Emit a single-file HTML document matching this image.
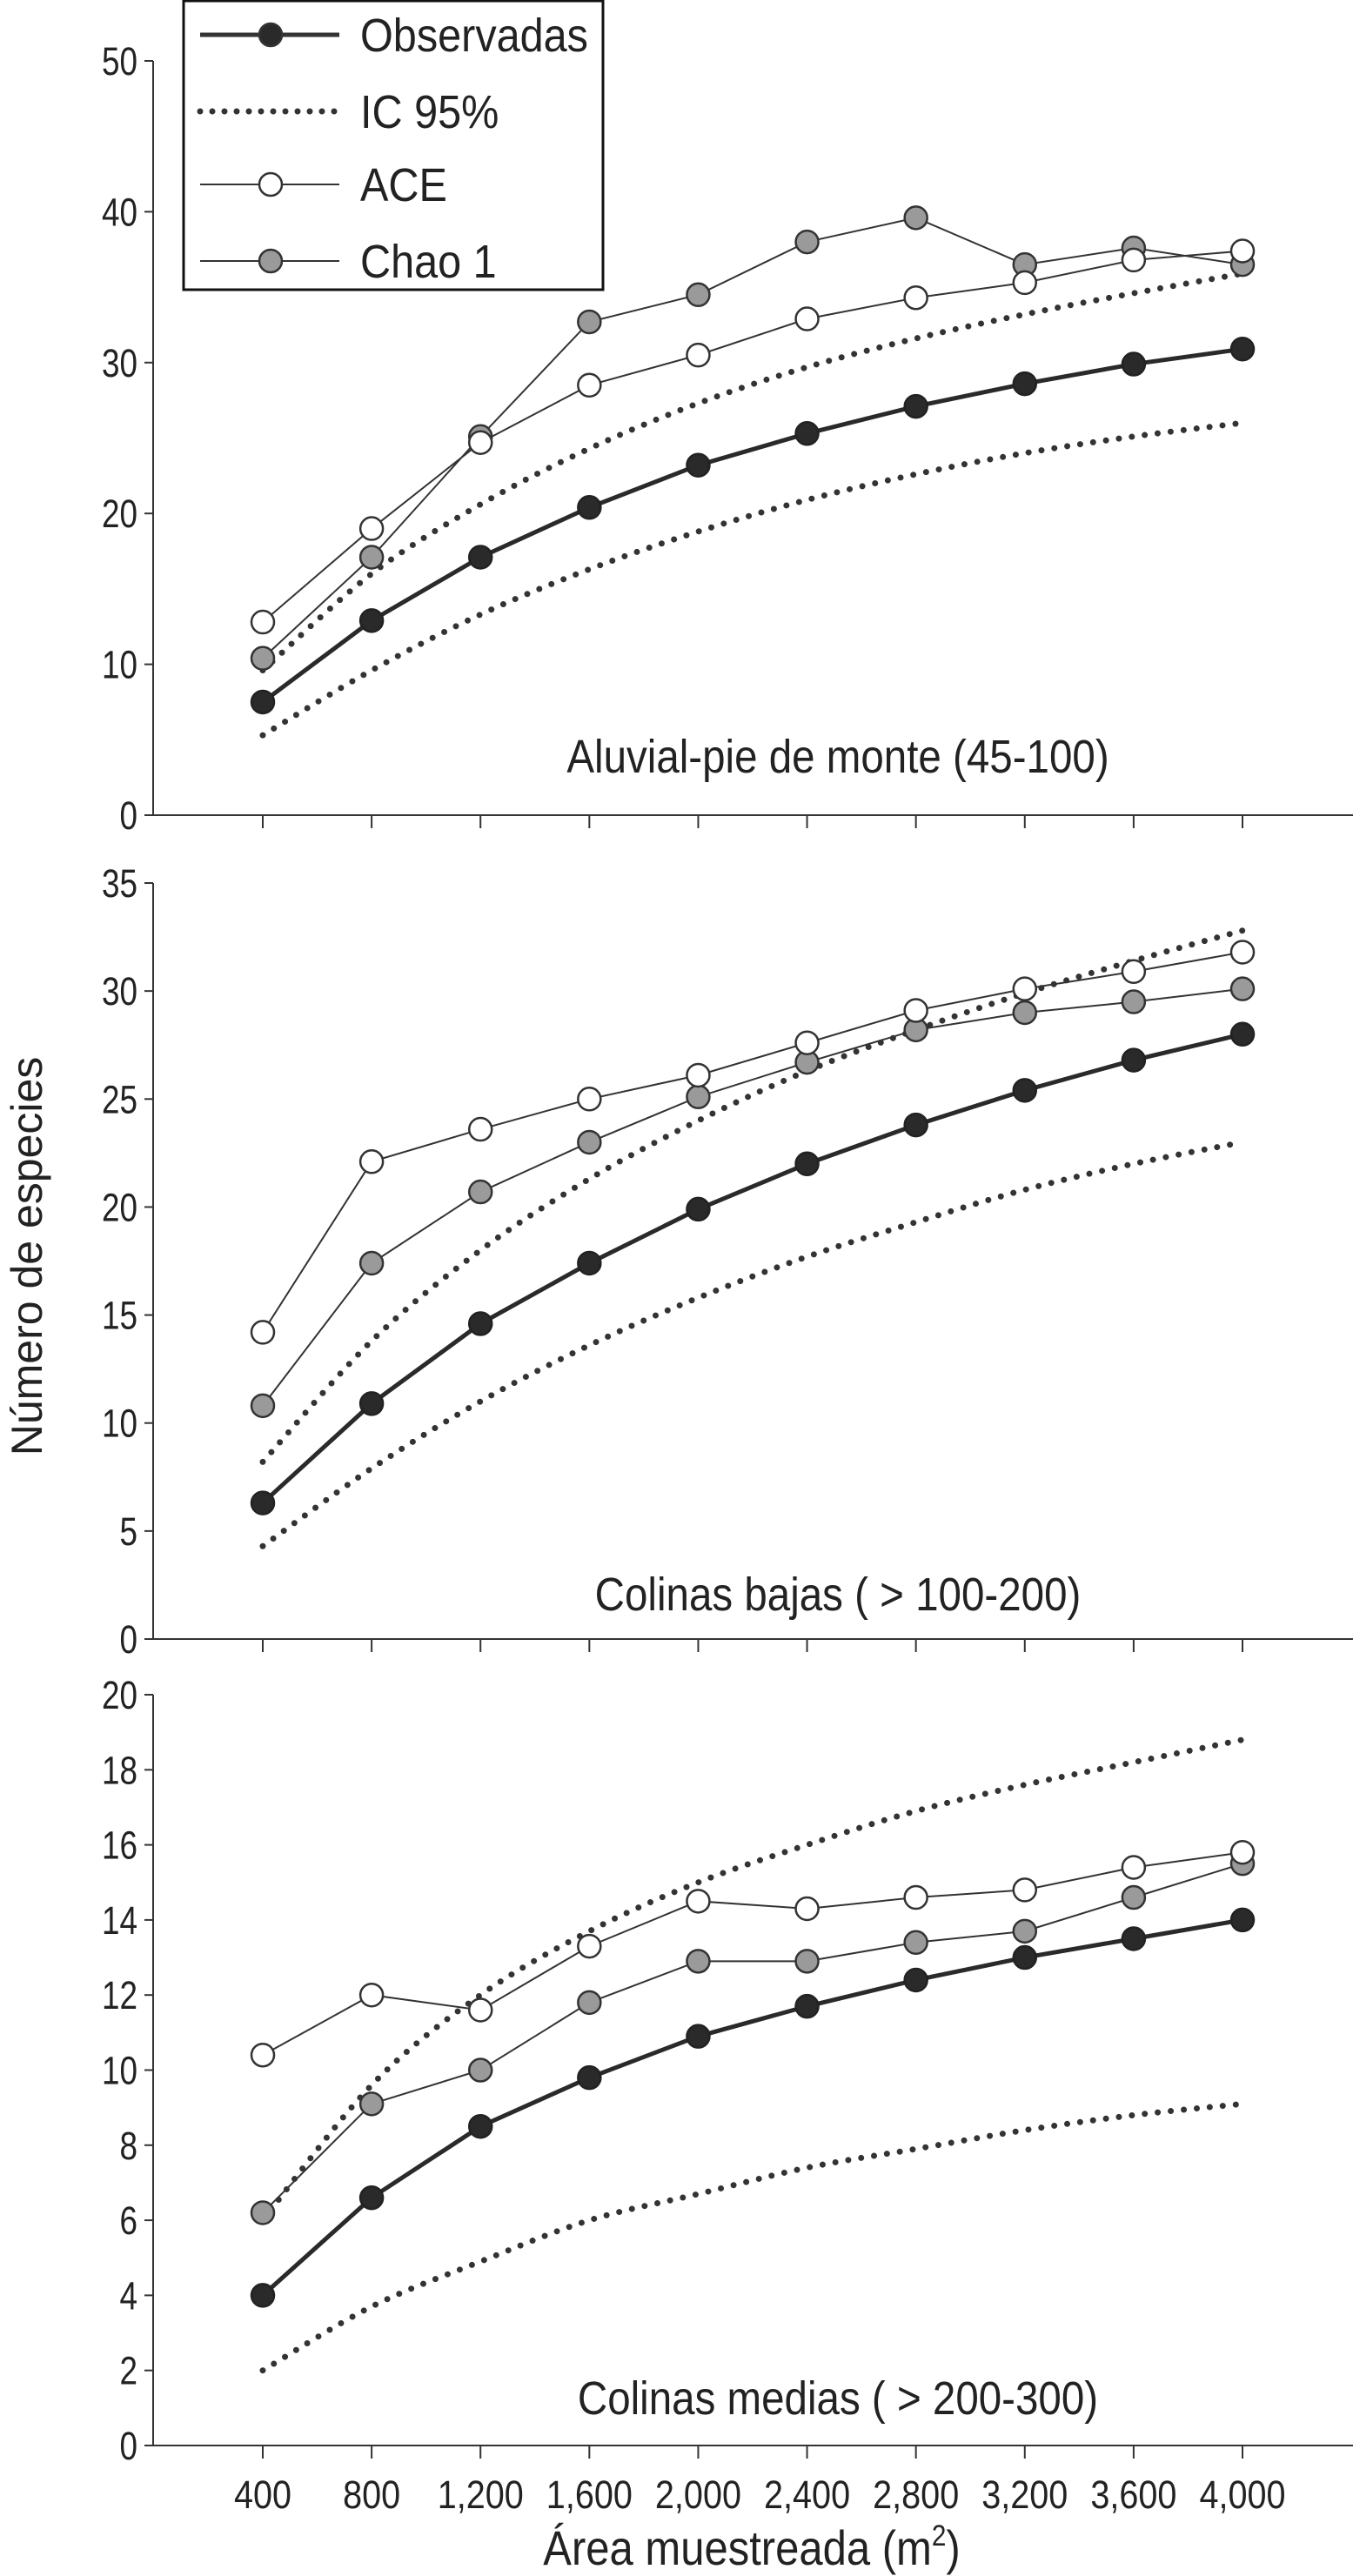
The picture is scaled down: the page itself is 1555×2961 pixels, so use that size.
<!DOCTYPE html>
<html><head><meta charset="utf-8"><style>
html,body{margin:0;padding:0;background:#fff;}
svg{display:block;}
text{font-family:"Liberation Sans",sans-serif;fill:#222;}
</style></head><body>
<svg id="chart" width="1555" height="2961" viewBox="0 0 1555 2961" xmlns="http://www.w3.org/2000/svg"></svg>
<script>
const categories = [400,800,1200,1600,2000,2400,2800,3200,3600,4000];
const xTickLabels = ["400","800","1,200","1,600","2,000","2,400","2,800","3,200","3,600","4,000"];

const p1Obs = [7.5,12.9,17.1,20.4,23.2,25.3,27.1,28.6,29.9,30.9];
const p1Up = [9.6,16,20.6,24.3,27.3,29.7,31.6,33.2,34.6,35.9];
const p1Low = [5.3,9.6,13.3,16.3,18.8,20.9,22.6,24,25.1,26];
const p1Ace = [12.8,19,24.7,28.5,30.5,32.9,34.3,35.3,36.8,37.4];
const p1Chao = [10.4,17.1,25.1,32.7,34.5,38,39.6,36.5,37.6,36.5];
const p1Ticks = [0,10,20,30,40,50];

const p2Obs = [6.3,10.9,14.6,17.4,19.9,22,23.8,25.4,26.8,28];
const p2Up = [8.2,13.8,18,21.3,24,26.3,28.2,29.9,31.4,32.8];
const p2Low = [4.3,7.9,11,13.6,15.8,17.7,19.3,20.8,22,23];
const p2Ace = [14.2,22.1,23.6,25,26.1,27.6,29.1,30.1,30.9,31.8];
const p2Chao = [10.8,17.4,20.7,23,25.1,26.7,28.2,29,29.5,30.1];
const p2Ticks = [0,5,10,15,20,25,30,35];

const p3Obs = [4,6.6,8.5,9.8,10.9,11.7,12.4,13,13.5,14];
const p3Up = [6,9.6,12,13.7,15,16,16.9,17.6,18.2,18.8];
const p3Low = [2,3.7,4.9,6,6.7,7.4,7.9,8.4,8.8,9.1];
const p3Ace = [10.4,12,11.6,13.3,14.5,14.3,14.6,14.8,15.4,15.8];
const p3Chao = [6.2,9.1,10,11.8,12.9,12.9,13.4,13.7,14.6,15.5];
const p3Ticks = [0,2,4,6,8,10,12,14,16,18,20];

const NS = "http://www.w3.org/2000/svg";
const svg = document.getElementById('chart');
function mk(tag, attrs, parent){
  const e = document.createElementNS(NS, tag);
  for (const k in attrs) e.setAttribute(k, attrs[k]);
  (parent||svg).appendChild(e);
  return e;
}
function ntext(x, y, size, anchor, parent, sx){
  return mk('text', {x:0, y:0, transform:`translate(${x},${y}) scale(${sx||0.8},1)`, 'text-anchor':anchor, 'font-size':size}, parent);
}
const X0 = 176, XL = 302, XR = 1428;
function xS(v){ return XL + (v - categories[0]) / (categories[categories.length-1] - categories[0]) * (XR - XL); }

function smooth(pts){
  let d = `M${pts[0][0]},${pts[0][1]}`;
  for (let i=0;i<pts.length-1;i++){
    const p0 = pts[i-1]||pts[i], p1=pts[i], p2=pts[i+1], p3=pts[i+2]||p2;
    const c1x = p1[0]+(p2[0]-p0[0])/6, c1y=p1[1]+(p2[1]-p0[1])/6;
    const c2x = p2[0]-(p3[0]-p1[0])/6, c2y=p2[1]-(p3[1]-p1[1])/6;
    d += ` C${c1x},${c1y} ${c2x},${c2y} ${p2[0]},${p2[1]}`;
  }
  return d;
}

function panel(id, yTop, yBot, maxV, ticks, obs, up, low, ace, chao, label, labelY, showXLabels){
  const g = mk('g', {});
  
  
  const yS = v => yBot - v / maxV * (yBot - yTop);
  const ya = mk('line', {x1:X0, y1:yTop, x2:X0, y2:yBot, stroke:'#333', 'stroke-width':2}, g);
  
  
  const xa = mk('line', {x1:X0, y1:yBot, x2:1555, y2:yBot, stroke:'#333', 'stroke-width':2}, g);
  
  
  ticks.forEach(t => {
    const y = yS(t);
    mk('line', {x1:X0-10, y1:y, x2:X0, y2:y, stroke:'#333', 'stroke-width':2}, g);
    const tx = ntext(X0-18, y+16, 45, 'end', g, 0.82);
    
    
    tx.textContent = t;
  });
  categories.forEach((c,i) => {
    const x = xS(c);
    mk('line', {x1:x, y1:yBot, x2:x, y2:yBot+15, stroke:'#333', 'stroke-width':2}, g);
    if (showXLabels){
      const tx = ntext(x, yBot+72, 45, 'middle', g, 0.88);
      
      
      tx.textContent = xTickLabels[i];
    }
  });
  [up, low].forEach((arr, k) => {
    const p = mk('path', {d:smooth(arr.map((v,i)=>[xS(categories[i]), yS(v)])), fill:'none', stroke:'#333', 'stroke-width':7, 'stroke-linecap':'round', 'stroke-dasharray':'0 15'}, g);
    
    
  });
  function series(arr, name, sw, fill, stroke, lineColor){
    const pl = mk('polyline', {points:arr.map((v,i)=>xS(categories[i])+','+yS(v)).join(' '), fill:'none', stroke:lineColor, 'stroke-width':sw}, g);
    
    
    arr.forEach((v,i) => {
      const c = mk('circle', {cx:xS(categories[i]), cy:yS(v), r:13, fill:fill, stroke:stroke, 'stroke-width':2.5}, g);
      
      
    });
  }
  series(chao, 'chao1', 2, '#9a9a9a', '#333', '#333');
  series(ace, 'ace', 2, '#fff', '#333', '#333');
  series(obs, 'observadas', 5, '#2a2a2a', '#222', '#2a2a2a');
  const lb = ntext(963, labelY, 54, 'middle', g, 0.88);
  
  
  lb.textContent = label;
}

panel('panel-aluvial', 70, 937, 50, p1Ticks, p1Obs, p1Up, p1Low, p1Ace, p1Chao, 'Aluvial-pie de monte (45-100)', 888, false);
panel('panel-colinas-bajas', 1015, 1884, 35, p2Ticks, p2Obs, p2Up, p2Low, p2Ace, p2Chao, 'Colinas bajas ( > 100-200)', 1851, false);
panel('panel-colinas-medias', 1948, 2811, 20, p3Ticks, p3Obs, p3Up, p3Low, p3Ace, p3Chao, 'Colinas medias ( > 200-300)', 2775, true);

const yt = mk('text', {x:0, y:0, transform:'translate(48,1444) rotate(-90)', 'text-anchor':'middle', 'font-size':50});


yt.textContent = 'Número de especies';

const xt = ntext(864, 2948, 56, 'middle', null, 0.875);


xt.textContent = 'Área muestreada (m';
const sup = mk('tspan', {'font-size':34, dy:-22}, xt);
sup.textContent = '2';
const close = mk('tspan', {'font-size':56, dy:22}, xt);
close.textContent = ')';

const lg = mk('g', {});


const box = mk('rect', {x:211, y:1, width:482, height:332, fill:'#fff', stroke:'#111', 'stroke-width':3}, lg);


const legItems = [
  {name:'Observadas', y:40, type:'obs'},
  {name:'IC 95%', y:128, type:'ci'},
  {name:'ACE', y:212, type:'ace'},
  {name:'Chao 1', y:300, type:'chao'}
];
legItems.forEach(it => {
  const e = mk('g', {}, lg);
  
  
  if (it.type==='ci'){
    mk('line', {x1:230, y1:it.y, x2:386, y2:it.y, stroke:'#333', 'stroke-width':7, 'stroke-linecap':'round', 'stroke-dasharray':'0 14'}, e);
  } else {
    mk('line', {x1:230, y1:it.y, x2:390, y2:it.y, stroke:'#333', 'stroke-width': it.type==='obs'?5:2}, e);
    mk('circle', {cx:311, cy:it.y, r:13, fill: it.type==='obs'?'#2a2a2a':(it.type==='ace'?'#fff':'#9a9a9a'), stroke:'#333', 'stroke-width':2.5}, e);
  }
  const t = ntext(414, it.y+19, 54, 'start', e, 0.9);
  t.textContent = it.name;
});
</script>
</body></html>
